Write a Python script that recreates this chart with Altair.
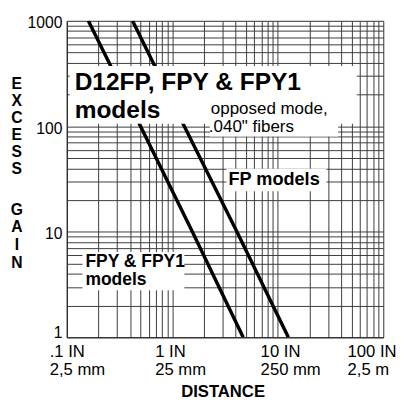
import altair as alt
import pandas as pd

# ---- data ----
fpy_distance = [0.16, 0.5, 1.55, 4.7]
fpy_gain = [1000, 100, 10, 1]
fp_distance = [0.42, 1.3, 4.1, 12.6]
fp_gain = [1000, 100, 10, 1]

x_grid_values = [0.1, 0.2, 0.3, 0.4, 0.5, 0.6, 0.7, 0.8, 0.9,
                 1, 2, 3, 4, 5, 6, 7, 8, 9,
                 10, 20, 30, 40, 50, 60, 70, 80, 90, 100]
y_grid_values = [1, 2, 3, 4, 5, 6, 7, 8, 9,
                 10, 20, 30, 40, 50, 60, 70, 80, 90,
                 100, 200, 300, 400, 500, 600, 700, 800, 900, 1000]

x_label_values = [0.1, 1, 10, 100]
x_label_line1 = [".1 IN", "1 IN", "10 IN", "100 IN"]
x_label_line2 = ["2,5 mm", "25 mm", "250 mm", "2,5 m"]
y_label_values = [1, 10, 100, 1000]

title_line1 = "D12FP, FPY & FPY1"
title_line2 = "models"
note_line1 = "opposed mode,"
note_line2 = ".040\" fibers"
fp_label = "FP models"
fpy_line1 = "FPY & FPY1"
fpy_line2 = "models"
y_title_word1 = ["E", "X", "C", "E", "S", "S"]
y_title_word2 = ["G", "A", "I", "N"]

FONT = "Liberation Sans"

# ---- build tables ----
lines_df = pd.DataFrame({
    "distance": fpy_distance + fp_distance,
    "gain": fpy_gain + fp_gain,
    "series": ["FPY"] * len(fpy_distance) + ["FP"] * len(fp_distance),
})

parts = []
for v, a, b in zip(x_label_values, x_label_line1, x_label_line2):
    parts.append(f"datum.value == {v} ? ['{a}', '{b}']")
x_label_expr = " : ".join(parts) + " : ''"
y_label_expr = ("indexof([" + ",".join(str(v) for v in y_label_values) +
                "], datum.value) >= 0 ? '' + datum.value : ''")

one = pd.DataFrame({"k": [0]})

x_axis = alt.Axis(
    values=x_grid_values, grid=True, gridColor="#3a3a3a", gridWidth=1,
    ticks=False, domainColor="#222", domainWidth=1,
    labelExpr=x_label_expr, labelAlign="left", labelBaseline="top",
    labelPadding=7, labelFontSize=17, labelFont=FONT, labelColor="black",
    labelLineHeight=18, labelFlush=False, labelOverlap=False, labelBound=False,
    labelOffset={"condition": {"test": "datum.value == 100", "value": -37}, "value": -18},
    title="DISTANCE", titleFont=FONT, titleFontSize=17, titleFontWeight="bold",
    titleColor="black", titleX=159, titleY=60, titleBaseline="alphabetic",
    titleAlign="center",
)
y_axis = alt.Axis(
    values=y_grid_values, grid=True, gridColor="#3a3a3a", gridWidth=1,
    ticks=False, domainColor="#222", domainWidth=1,
    labelExpr=y_label_expr, labelFontSize=16, labelFont=FONT, labelColor="black",
    labelPadding=5, labelFlush=False, labelOverlap=False, title=None,
    labelBaseline={"condition": {"test": "datum.value == 1", "value": "alphabetic"}, "value": "middle"},
    labelOffset={"condition": {"test": "datum.value == 1", "value": 0}, "value": 2},
)

lines = alt.Chart(lines_df).mark_line(color="black", strokeWidth=3.5, clip=True).encode(
    x=alt.X("distance:Q", scale=alt.Scale(type="log", domain=[0.1, 100], nice=False), axis=x_axis),
    y=alt.Y("gain:Q", scale=alt.Scale(type="log", domain=[1, 1000], nice=False), axis=y_axis),
    detail="series:N",
)

def box(x1, x2, y1, y2):
    return alt.Chart(one).mark_rect(color="white", opacity=1).encode(
        x=alt.value(x1), x2=alt.value(x2), y=alt.value(y1), y2=alt.value(y2))

def txt(text, x, y, size, weight, lh=None, align="left"):
    kw = dict(text=text, font=FONT, fontSize=size, fontWeight=weight,
              align=align, baseline="alphabetic", color="black")
    if lh is not None:
        kw["lineHeight"] = lh
    return alt.Chart(one).mark_text(**kw).encode(x=alt.value(x), y=alt.value(y))

boxes = [
    box(3, 296, 46, 105),
    box(146, 277, 83, 118),
    box(163, 265, 151, 174),
    box(16, 120, 236, 275),
]
texts = [
    txt(title_line1, 8, 71, 25, "bold"),
    txt(title_line2, 8, 99, 25, "bold"),
    txt(note_line1, 147, 95, 17.3, "normal"),
    txt(note_line2, 145, 113, 17.3, "normal"),
    txt(fp_label, 165, 168, 18.5, "bold"),
    txt(fpy_line1, 19, 251, 17.8, "bold"),
    txt(fpy_line2, 19, 270, 17.8, "bold"),
    txt(y_title_word1, -51, 70, 16, "bold", lh=17.3, align="center"),
    txt(y_title_word2, -51, 198, 16, "bold", lh=18, align="center"),
]

chart = alt.layer(lines, *boxes, *texts).properties(
    width=323, height=323,
    autosize=alt.AutoSizeParams(type="none"),
    padding={"left": 60, "top": 9, "right": 13, "bottom": 65},
).configure_view(stroke="#222", strokeWidth=1).configure(background="white")

chart.save("out.html", embed_options={"renderer": "svg", "actions": False})
